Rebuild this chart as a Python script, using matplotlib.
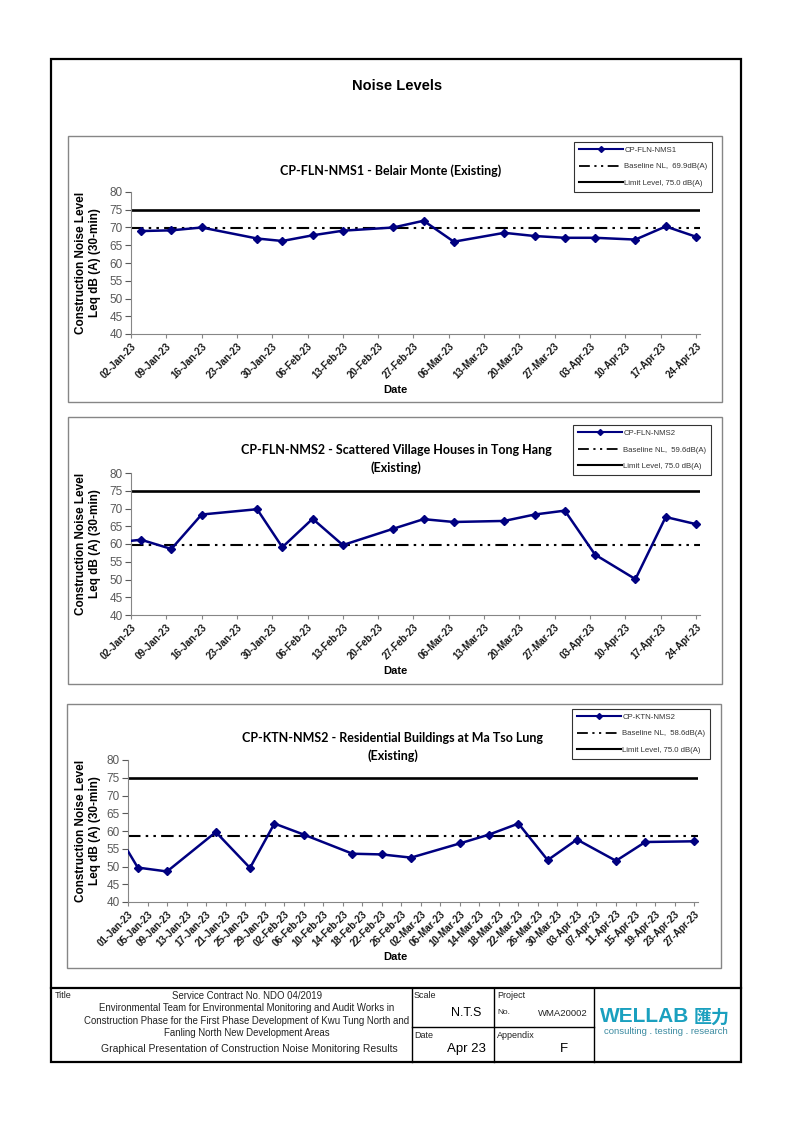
import numpy as np
import pandas as pd
import matplotlib
matplotlib.use('Agg')
import matplotlib.pyplot as plt
from matplotlib.patches import Rectangle
from matplotlib.lines import Line2D

plt.rcParams['font.family'] = ['Liberation Sans', 'DejaVu Sans']

W, H = 794, 1123

# ---- data ----
limit_level = 75.0

nms1_dates = ['2023-01-04', '2023-01-10', '2023-01-16', '2023-01-27', '2023-02-01',
              '2023-02-07', '2023-02-13', '2023-02-23', '2023-03-01', '2023-03-07',
              '2023-03-17', '2023-03-23', '2023-03-29', '2023-04-04', '2023-04-12',
              '2023-04-18', '2023-04-24']
nms1_levels = [69.0, 69.2, 70.0, 66.9, 66.2, 67.8, 69.1, 70.0, 71.9, 66.0,
               68.5, 67.6, 67.1, 67.1, 66.6, 70.3, 67.4]
nms1_baseline = 69.9

nms2_dates = ['2022-12-29', '2023-01-04', '2023-01-10', '2023-01-16', '2023-01-27',
              '2023-02-01', '2023-02-07', '2023-02-13', '2023-02-23', '2023-03-01',
              '2023-03-07', '2023-03-17', '2023-03-23', '2023-03-29', '2023-04-04',
              '2023-04-12', '2023-04-18', '2023-04-24']
nms2_levels = [60.3, 61.2, 58.6, 68.3, 69.8, 59.1, 67.1, 59.7, 64.3, 67.0,
               66.2, 66.5, 68.3, 69.4, 57.0, 50.1, 67.6, 65.6]
nms2_baseline = 59.6

ktn_dates = ['2022-12-31', '2023-01-03', '2023-01-09', '2023-01-19', '2023-01-26',
             '2023-01-31', '2023-02-06', '2023-02-16', '2023-02-22', '2023-02-28',
             '2023-03-10', '2023-03-16', '2023-03-22', '2023-03-28', '2023-04-03',
             '2023-04-11', '2023-04-17', '2023-04-27']
ktn_levels = [56.6, 49.7, 48.6, 59.7, 49.6, 62.1, 59.0, 53.6, 53.4, 52.5,
              56.5, 59.0, 62.1, 51.8, 57.6, 51.6, 56.9, 57.1]
ktn_baseline = 58.6

weekly_ticks = pd.date_range('2023-01-02', '2023-04-24', freq='7D')
four_day_ticks = pd.date_range('2023-01-01', '2023-04-27', freq='4D')

NAVY = '#000080'
DASHDOTDOT = (0, (6, 2.5, 1.2, 2.5, 1.2, 2.5))
GREY = '#868686'


def fx(x):
    return x / W


def fy(y):
    return 1 - y / H


def add_axes_px(fig, left, top, right, bottom):
    return fig.add_axes([left / W, 1 - bottom / H, (right - left) / W, (bottom - top) / H])


def draw_chart(fig, box, axbox, title_lines, title_y, dates, levels, baseline, name, ticks, legend_xy, date_y):
    # grey panel border
    x0, y0, x1, y1 = box
    fig.add_artist(Rectangle((fx(x0), fy(y1)), (x1 - x0) / W, (y1 - y0) / H,
                             transform=fig.transFigure, fill=False, ec=GREY, lw=1))

    ax = add_axes_px(fig, *axbox)
    ax.patch.set_alpha(0)
    ax.plot(pd.to_datetime(dates), levels, color=NAVY, lw=1.8, marker='D', ms=4.5, zorder=3)
    ax.axhline(baseline, color='black', lw=1.5, ls=DASHDOTDOT, zorder=2)
    ax.axhline(limit_level, color='black', lw=1.9, zorder=2)

    ax.set_ylim(40, 80)
    ax.set_yticks(np.arange(40, 81, 5))
    ax.set_xlim(ticks[0], ticks[-1] + pd.Timedelta(days=0.8))
    ax.set_xticks(ticks)
    ax.set_xticklabels([t.strftime('%d-%b-%y') for t in ticks], rotation=45, ha='right',
                       rotation_mode='anchor', fontsize=7, fontweight='bold')
    ax.tick_params(axis='y', colors='#595959', labelsize=8.5, length=4, width=0.8, pad=2)
    ax.tick_params(axis='x', colors=GREY, labelcolor='#1a1a1a', length=3, width=0.8, pad=2)
    for s in ['top', 'right']:
        ax.spines[s].set_visible(False)
    for s in ['left', 'bottom']:
        ax.spines[s].set_color(GREY)
        ax.spines[s].set_linewidth(0.8)

    # y label
    ymid = (axbox[1] + axbox[3]) / 2
    fig.text(fx(88), fy(ymid), 'Construction Noise Level\nLeq dB (A) (30-min)', rotation=90,
             ha='center', va='center', fontsize=8.5, fontweight='bold', linespacing=1.15)
    fig.text(fx(395), fy(date_y), 'Date', ha='center', va='center', fontsize=8, fontweight='bold')

    for i, line in enumerate(title_lines):
        fig.text(fx(title_y[0][i]), fy(title_y[1][i]), line, ha='center', va='center',
                 fontsize=9.0, fontweight='bold', family='Lato')

    handles = [Line2D([], [], color=NAVY, lw=1.5, marker='D', ms=3),
               Line2D([], [], color='black', lw=1.3, ls=DASHDOTDOT),
               Line2D([], [], color='black', lw=1.5)]
    labels = [name, 'Baseline NL,  %.1fdB(A)' % baseline, 'Limit Level, %.1f dB(A)' % limit_level]
    leg = ax.legend(handles, labels, loc='upper left', bbox_to_anchor=(fx(legend_xy[0]), fy(legend_xy[1])),
                    bbox_transform=fig.transFigure, fontsize=5.6, frameon=True, fancybox=False,
                    edgecolor='black', handlelength=5.7, handletextpad=0.15, labelspacing=1.15,
                    borderpad=0.6, borderaxespad=0, labelcolor='#333333')
    leg.get_frame().set_linewidth(0.8)
    return ax


fig = plt.figure(figsize=(W / 100, H / 100), dpi=100)

# page border and title block frame
fig.add_artist(Rectangle((fx(51), fy(1062)), 690 / W, 1003 / H, transform=fig.transFigure,
                         fill=False, ec='black', lw=1.6))
fig.add_artist(Line2D([fx(51), fx(741)], [fy(988), fy(988)], transform=fig.transFigure, color='black', lw=1.6))
for xv in [412, 494, 594]:
    fig.add_artist(Line2D([fx(xv), fx(xv)], [fy(988), fy(1062)], transform=fig.transFigure, color='black', lw=1))
fig.add_artist(Line2D([fx(412), fx(594)], [fy(1027), fy(1027)], transform=fig.transFigure, color='black', lw=1))

fig.text(fx(397), fy(86), 'Noise Levels', ha='center', va='center', fontsize=10.5, fontweight='bold')

draw_chart(fig, (68, 136, 722, 402), (131, 192, 700, 334),
           ['CP-FLN-NMS1 - Belair Monte (Existing)'], ([391], [171]),
           nms1_dates, nms1_levels, nms1_baseline, 'CP-FLN-NMS1', weekly_ticks, (574, 142), 390)
draw_chart(fig, (68, 417, 722, 684), (131, 473, 700, 615),
           ['CP-FLN-NMS2 - Scattered Village Houses in Tong Hang', '(Existing)'], ([396, 396], [450, 468]),
           nms2_dates, nms2_levels, nms2_baseline, 'CP-FLN-NMS2', weekly_ticks, (573, 425), 671)
draw_chart(fig, (67, 704, 721, 968), (128, 760, 698, 902),
           ['CP-KTN-NMS2 - Residential Buildings at Ma Tso Lung', '(Existing)'], ([393, 393], [738, 756]),
           ktn_dates, ktn_levels, ktn_baseline, 'CP-KTN-NMS2', four_day_ticks, (572, 709), 957)

# title block text
tc = '#222222'
fig.text(fx(55), fy(996), 'Title', fontsize=6.5, va='center', color=tc)
block_lines = ['Service Contract No. NDO 04/2019',
               'Environmental Team for Environmental Monitoring and Audit Works in',
               'Construction Phase for the First Phase Development of Kwu Tung North and',
               'Fanling North New Development Areas']
for i, line in enumerate(block_lines):
    fig.text(fx(247), fy(996 + 12.3 * i), line, fontsize=6.9, ha='center', va='center', color=tc)
fig.text(fx(249), fy(1049), 'Graphical Presentation of Construction Noise Monitoring Results',
         fontsize=7.5, ha='center', va='center', color=tc)

fig.text(fx(414), fy(996), 'Scale', fontsize=6.5, va='center', color=tc)
fig.text(fx(466), fy(1013), 'N.T.S', fontsize=9, ha='center', va='center', color='black')
fig.text(fx(414), fy(1036), 'Date', fontsize=6.5, va='center', color=tc)
fig.text(fx(466), fy(1049), 'Apr 23', fontsize=9.5, ha='center', va='center', color='black')
fig.text(fx(497), fy(996), 'Project', fontsize=6.5, va='center', color=tc)
fig.text(fx(497), fy(1012), 'No.', fontsize=6, va='center', color=tc)
fig.text(fx(563), fy(1013), 'WMA20002', fontsize=6.8, ha='center', va='center', color=tc)
fig.text(fx(497), fy(1036), 'Appendix', fontsize=6.5, va='center', color=tc)
fig.text(fx(564), fy(1049), 'F', fontsize=9.5, ha='center', va='center', color='black')

# logo
teal = '#1aa0bf'
fig.text(fx(600), fy(1017), 'WELLAB', fontsize=15, fontweight='bold', color=teal, va='center')
fig.text(fx(694), fy(1017), '匯力', fontsize=13, fontweight='bold', color=teal, va='center',
         family=['Noto Sans CJK TC', 'DejaVu Sans'])
fig.text(fx(666), fy(1032), 'consulting . testing . research', fontsize=6.8, color='#3a8aa0',
         ha='center', va='center')

fig.savefig('out.png', dpi=100)
